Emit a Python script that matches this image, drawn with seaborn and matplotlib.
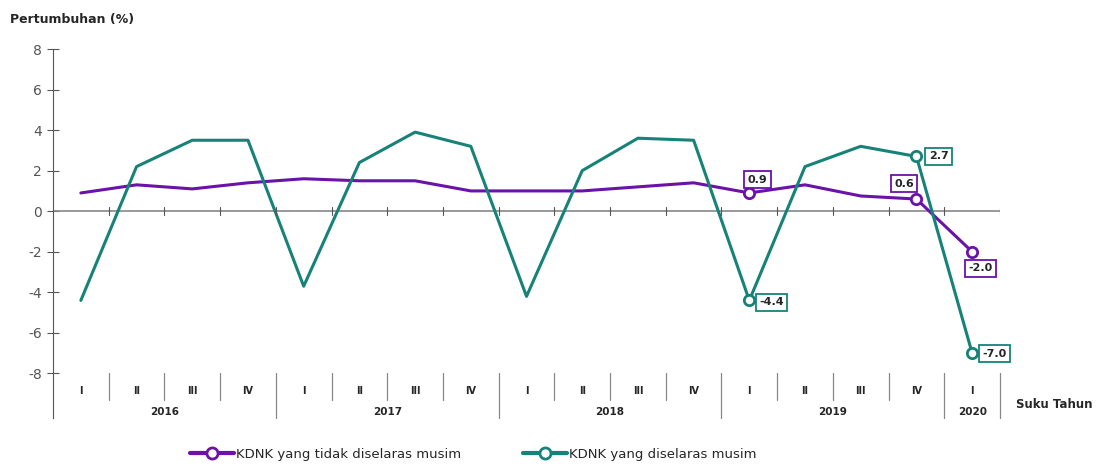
import pandas as pd
import matplotlib.pyplot as plt
import seaborn as sns

# Quarterly GDP growth (%), 2016 Q1 - 2020 Q1
years = ["2016", "2017", "2018", "2019", "2020"]
quarters = ["I", "II", "III", "IV"] * 4 + ["I"]
quarters_per_year = [4, 4, 4, 4, 1]
unadjusted = [0.9, 1.3, 1.1, 1.4, 1.6, 1.5, 1.5, 1.0, 1.0, 1.0, 1.2, 1.4,
              0.9, 1.3, 0.75, 0.6, -2.0]
adjusted = [-4.4, 2.2, 3.5, 3.5, -3.7, 2.4, 3.9, 3.2, -4.2, 2.0, 3.6, 3.5,
            -4.4, 2.2, 3.2, 2.7, -7.0]
series_names = ["KDNK yang tidak diselaras musim", "KDNK yang diselaras musim"]
colors = ["#6B12A8", "#178277"]
# points that carry a value label: (series, index, dx pt, dy pt)
labelled = [(0, 12, 6, 9.5), (0, 15, -9, 11), (0, 16, 6, -12),
            (1, 12, 16, -1.5), (1, 15, 16, 0), (1, 16, 16, -0.5)]

n = len(unadjusted)
idx = list(range(n))
df = pd.DataFrame({
    "idx": idx * 2,
    "value": unadjusted + adjusted,
    "series": [series_names[0]] * n + [series_names[1]] * n,
})

sns.set_style("white")
plt.rcParams["font.family"] = ["DejaVu Sans"]
plt.rcParams["axes.unicode_minus"] = False

fig = plt.figure(figsize=(10.96, 4.66), dpi=100)
ax = fig.add_axes([53 / 1096, 1 - 418 / 466, (1000 - 53) / 1096, (418 - 49) / 466])

sns.lineplot(data=df, x="idx", y="value", hue="series", palette=colors,
             linewidth=2.2, ax=ax, legend=False)

vals = [unadjusted, adjusted]
for s, i, dx, dy in labelled:
    sns.scatterplot(x=[i], y=[vals[s][i]], ax=ax, s=55, color="white",
                    edgecolor=colors[s], linewidth=2, zorder=5)
    ax.annotate(f"{vals[s][i]:.1f}", (i, vals[s][i]), xytext=(dx, dy),
                textcoords="offset points", ha="center", va="center",
                fontsize=8, fontweight="bold", zorder=6,
                bbox=dict(boxstyle="square,pad=0.3", fc="white",
                          ec=colors[s], lw=1.3))

ax.set_xlim(-0.5, n - 0.5)
ax.set_ylim(-10.2, 8)
ax.set_yticks(range(-8, 9, 2))
ax.tick_params(axis="y", direction="inout", length=9, width=0.8,
               colors="#555555", labelsize=10, labelcolor="#555555", left=True)
ax.set_xticks([])
ax.set_xlabel("")
ax.set_ylabel("")
for side in ["top", "right", "bottom"]:
    ax.spines[side].set_visible(False)
ax.spines["left"].set_color("#555555")
ax.spines["left"].set_linewidth(0.8)

# zero line with tick marks at category boundaries
ax.axhline(0, color="#888888", lw=1.2, zorder=1)
for b in range(1, n + 1):
    ax.plot([b - 0.5, b - 0.5], [-0.2, 0.2], color="#555555", lw=0.8)

# quarter / year labels beneath the plot
for i, q in enumerate(quarters):
    ax.text(i, -8.85, q, ha="center", va="center", fontsize=7, fontweight="bold")
start = 0
for y, k in zip(years, quarters_per_year):
    ax.text(start + (k - 1) / 2, -9.9, y, ha="center", va="center",
            fontsize=7.5, fontweight="bold")
    start += k
year_ends = [sum(quarters_per_year[:j + 1]) for j in range(len(years))]
for b in range(1, n + 1):
    bottom = -10.2 if b in year_ends else -9.3
    ax.plot([b - 0.5, b - 0.5], [-8.0, bottom], color="#888888", lw=0.9,
            clip_on=False)

fig.text(10 / 1096, 1 - 20 / 466, "Pertumbuhan (%)", fontsize=9,
         fontweight="bold", va="center")
fig.text(1092 / 1096, 1 - 404 / 466, "Suku Tahun", fontsize=8.5,
         fontweight="bold", va="center", ha="right")

handles = [plt.Line2D([], [], color=c, lw=3, marker="o", markersize=8,
                      markerfacecolor="white", markeredgewidth=2)
           for c in colors]
fig.legend(handles, series_names, loc="lower center", ncol=2,
           bbox_to_anchor=(0.432, -0.015), frameon=False, fontsize=9.5,
           handlelength=3.3, handletextpad=0.2, columnspacing=4.7)

fig.savefig("out.png", dpi=100)
